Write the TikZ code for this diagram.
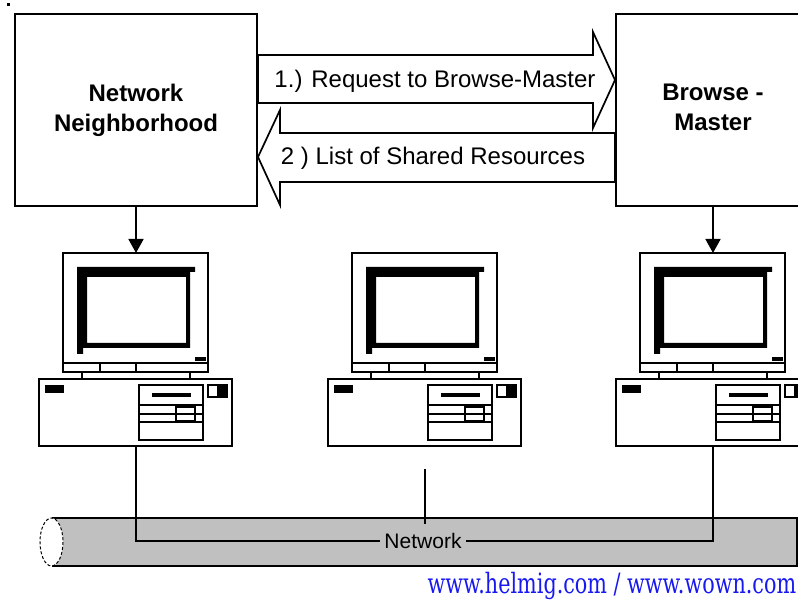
\documentclass[tikz,border=0pt]{standalone}
\usepackage{fontspec}
\setmainfont{Liberation Sans}
\newfontfamily\urlfont{DejaVu Serif}
\usetikzlibrary{arrows.meta}

\definecolor{pipegray}{RGB}{192,192,192}
\definecolor{linkblue}{RGB}{24,24,240}

% one desktop machine: monitor on top of the case
\tikzset{
  pc/.pic={
    % monitor
    \draw (-73,0) rectangle (72,119);
    \draw (-73,110) -- (72,110);
    \draw (-36,110) -- (-36,119) (0,110) -- (0,119);
    \fill[even odd rule] (-59,14) -- (59,14) -- (59,19) -- (54,19) -- (54,95)
      -- (-53,95) -- (-53,101) -- (-59,101) -- cycle
      (-49,24) rectangle (50,90);
    \fill (59,104) rectangle (70,108);
    \draw (-54,119) -- (-54,126) (54,119) -- (54,126);
    % case
    \draw (-97,126) rectangle (96,193);
    \fill (-91,132) rectangle (-72,140);
    \draw (3,132) rectangle (67,187);
    \fill (16,140) rectangle (55,144);
    \draw (3,152) -- (67,152) (3,161) -- (67,161) (3,169) -- (67,169);
    \draw (40,154) rectangle (59,168);
    \draw (72,132) rectangle (91,144);
    \fill (81,132) rectangle (91,144);
    \coordinate (-top) at (0,0);
    \coordinate (-base) at (0,193);
  }
}

\begin{document}
\begin{tikzpicture}[x=1pt, y=-1pt, line width=1.7pt,
    hostbox/.style={draw, fill=white, line width=2pt, align=center,
                    font=\fontsize{24}{30}\selectfont\bfseries},
    msgarrow/.style={draw, fill=white, line width=1.7pt, line join=miter},
    msg/.style={anchor=base, inner sep=0pt, font=\fontsize{24}{28}\selectfont},
    feed/.style={-{Triangle[width=15pt,length=14pt]}}]
\useasboundingbox (0,0) rectangle (798,601);
\fill[white] (0,0) rectangle (798,601);
\clip (0,0) rectangle (798,601);

\fill (7,3) rectangle (10,6);

\node[hostbox, minimum width=242pt, minimum height=192pt] (nbh) at (136,110)
  {Network\\Neighborhood};
\node[hostbox, minimum width=194pt, minimum height=192pt] (bm) at (713,110)
  {Browse -\\Master\rule[-5pt]{0pt}{5pt}};

% request and answer
\draw[msgarrow] (nbh.east |- 0,55) -- (593,55) -- (593,32) -- (bm.west |- 0,80)
  -- (593,128) -- (593,103) -- (nbh.east |- 0,103) -- cycle;
\draw[msgarrow] (bm.west |- 0,133) -- (280,133) -- (280,110) -- (nbh.east |- 0,157)
  -- (280,205) -- (280,182) -- (bm.west |- 0,182) -- cycle;
\node[msg] (req) at (435,88) {1.) Request to Browse-Master};
\node[msg] (ans) at (433,165) {2 ) List of Shared Resources};

\pic (pcA) at (136,253) {pc};
\pic (pcB) at (425,253) {pc};
\pic (pcC) at (713,253) {pc};

\draw[feed] (nbh.south) -- (pcA-top);
\draw[feed] (bm.south) -- (pcC-top);

% the cable
\filldraw[fill=pipegray] (52,518) -- (797,518) -- (797,566) -- (52,566);
\draw[fill=white, line width=1pt, densely dashed] (51.5,542) ellipse [x radius=11.5, y radius=24];
\node[inner sep=4pt, font=\fontsize{21}{24}\selectfont] (net) at (423,541) {Network};

\draw (pcA-base) |- (net.west);
\draw (pcC-base) |- (net.east);
\draw ([yshift=-23pt]pcB-base) -- ([yshift=4pt]net.north -| pcB-base);

\node[anchor=base east, inner sep=0pt, text=linkblue] (url) at (797,593)
  {\scalebox{0.74}[1]{\urlfont\fontsize{28}{30}\selectfont www.helmig.com / www.wown.com}};
\end{tikzpicture}
\end{document}
